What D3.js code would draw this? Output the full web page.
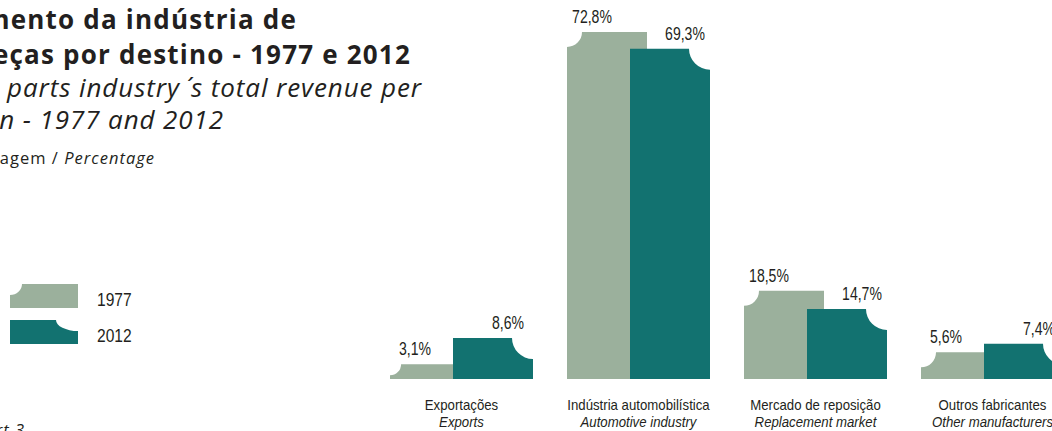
<!DOCTYPE html>
<html lang="pt">
<head>
  <meta charset="UTF-8" />
  <title>Faturamento da indústria de autopeças por destino</title>
  <script src="https://d3js.org/d3.v7.min.js"></script>
  <style>
    body {
      margin: 0;
      padding: 0;
      background-color: #fff;
      overflow: hidden;
    }

    svg {
      display: block;
    }

    .title {
      font-family: "Open Sans", "DejaVu Sans", sans-serif;
      font-weight: bold;
      font-size: 26px;
      letter-spacing: 1.2px;
      fill: #231f20;
    }

    .subtitle {
      font-family: "Open Sans", "DejaVu Sans", sans-serif;
      font-style: italic;
      font-size: 26px;
      letter-spacing: 0.9px;
      fill: #231f20;
    }

    .unit, .chart-no {
      font-family: "Open Sans", "DejaVu Sans", sans-serif;
      font-size: 16.5px;
      letter-spacing: 1px;
      fill: #231f20;
    }

    .narrow {
      font-family: "Liberation Sans", Arial, sans-serif;
      fill: #231f20;
    }
  </style>
</head>
<body>
  <svg width="1052" height="431"></svg>

  <script>
    // data
    const categories = ["Exportações", "Indústria automobilística", "Mercado de reposição", "Outros fabricantes"];
    const categoriesEn = ["Exports", "Automotive industry", "Replacement market", "Other manufacturers"];
    const years = ["1977", "2012"];
    const values1977 = [3.1, 72.8, 18.5, 5.6];
    const values2012 = [8.6, 69.3, 14.7, 7.4];

    const titleLines = ["Faturamento da indústria de", "autopeças por destino - 1977 e 2012"];
    const subtitleLines = ["Auto parts industry\u2009´\u2009s total revenue per", "destination - 1977 and 2012"];

    const colors = { "1977": "#9bb09c", "2012": "#127270" };

    const svg = d3.select("svg");
    const baseline = 379;
    const barWidth = 80;

    const x = d3.scalePoint()
      .domain(categories)
      .range([461.5, 992.5]);

    // 2012 bar overlaps the right part of the 1977 bar
    const offset = d3.scaleOrdinal()
      .domain(years)
      .range([-71.5, -8.5]);

    const y = d3.scaleLinear()
      .domain([0, 72.8])
      .range([baseline, 32]);

    const fmt = v => d3.format(".1f")(v).replace(".", ",") + "%";

    // squeeze a text horizontally to imitate a condensed face
    function condense(sel, k) {
      sel.each(function() {
        const len = this.getComputedTextLength();
        d3.select(this)
          .attr("textLength", len * k)
          .attr("lengthAdjust", "spacingAndGlyphs");
      });
    }

    // bar with a concave notch on one top corner
    function notched(x0, y0, w, h, side, rx, ry) {
      if (side === "left") {
        return `M${x0},${y0 + ry} A${rx},${ry} 0 0 0 ${x0 + rx},${y0}` +
          ` L${x0 + w},${y0} L${x0 + w},${y0 + h} L${x0},${y0 + h} Z`;
      }
      return `M${x0},${y0} L${x0 + w - rx},${y0} A${rx},${ry} 0 0 0 ${x0 + w},${y0 + ry}` +
        ` L${x0 + w},${y0 + h} L${x0},${y0 + h} Z`;
    }

    // titles (the left part is cut off by the frame)
    svg.selectAll(".title")
      .data(titleLines)
      .enter().append("text")
      .attr("class", "title")
      .attr("text-anchor", "end")
      .attr("x", (d, i) => i === 0 ? 297 : 411)
      .attr("y", (d, i) => 29 + i * 35)
      .text(d => d);

    svg.selectAll(".subtitle")
      .data(subtitleLines)
      .enter().append("text")
      .attr("class", "subtitle")
      .attr("text-anchor", "end")
      .attr("x", (d, i) => i === 0 ? 422 : 224)
      .attr("y", (d, i) => 97 + i * 32)
      .text(d => d);

    const unit = svg.append("text")
      .attr("class", "unit")
      .attr("text-anchor", "end")
      .attr("x", 155)
      .attr("y", 164);
    unit.append("tspan").text("Percentagem / ");
    unit.append("tspan").attr("font-style", "italic").text("Percentage");

    const chartNo = svg.append("text")
      .attr("class", "chart-no")
      .attr("text-anchor", "end")
      .attr("x", 25)
      .attr("y", 436);
    chartNo.append("tspan").text("Gráfico 3 / ");
    chartNo.append("tspan").attr("font-style", "italic").text("Chart 3");

    // legend
    const legend = svg.append("g");
    years.forEach((yr, i) => {
      const top = 284 + i * 36;
      legend.append("path")
        .attr("d", notched(10, top, 68, 24, i === 0 ? "left" : "right", i === 0 ? 12 : 22, 11))
        .attr("fill", colors[yr]);
      legend.append("text")
        .attr("class", "narrow")
        .attr("x", 97)
        .attr("y", top + 22)
        .attr("font-size", 19)
        .text(yr)
        .call(condense, 0.82);
    });

    // bars
    const series = [
      { year: "1977", values: values1977, side: "left", r: 15, labelDx: 25 },
      { year: "2012", values: values2012, side: "right", r: 21, labelDx: 55 }
    ];

    const groups = svg.selectAll(".series")
      .data(series)
      .enter().append("g")
      .attr("class", "series");

    groups.selectAll("path")
      .data(s => s.values.map((v, i) => ({ s, v, cat: categories[i] })))
      .enter().append("path")
      .attr("fill", d => colors[d.s.year])
      .attr("d", d => {
        const x0 = x(d.cat) + offset(d.s.year);
        const h = baseline - y(d.v);
        const r = Math.min(d.s.r, h * 0.75);
        return notched(x0, y(d.v), barWidth, h, d.s.side, r, r);
      });

    groups.selectAll("text")
      .data(s => s.values.map((v, i) => ({ s, v, cat: categories[i] })))
      .enter().append("text")
      .attr("class", "narrow")
      .attr("font-size", 18)
      .attr("text-anchor", "middle")
      .attr("x", d => x(d.cat) + offset(d.s.year) + d.s.labelDx)
      .attr("y", d => y(d.v) - 9)
      .text(d => fmt(d.v))
      .call(condense, 0.78);

    // category labels
    svg.selectAll(".cat")
      .data(categories)
      .enter().append("text")
      .attr("class", "narrow cat")
      .attr("font-size", 15)
      .attr("text-anchor", "middle")
      .attr("x", d => x(d))
      .attr("y", 410)
      .text(d => d)
      .call(condense, 0.88);

    svg.selectAll(".cat-en")
      .data(categoriesEn)
      .enter().append("text")
      .attr("class", "narrow cat-en")
      .attr("font-size", 15)
      .attr("font-style", "italic")
      .attr("text-anchor", "middle")
      .attr("x", (d, i) => x(categories[i]))
      .attr("y", 427)
      .text(d => d)
      .call(condense, 0.88);
  </script>
</body>
</html>
